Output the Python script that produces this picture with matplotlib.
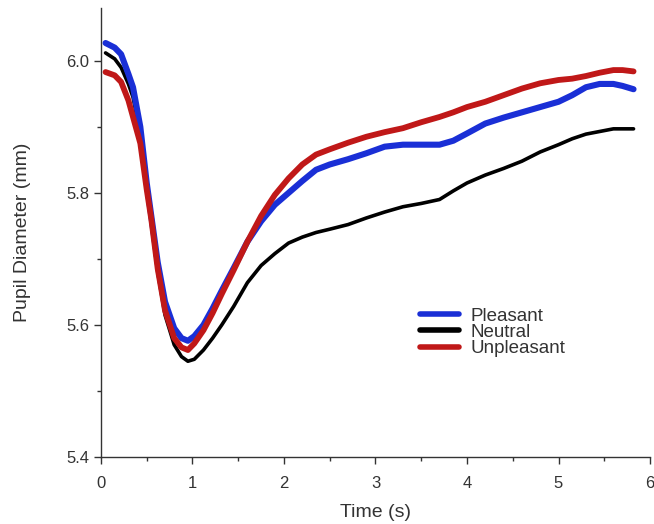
import matplotlib
matplotlib.use("Agg")
import matplotlib.pyplot as plt
from matplotlib.ticker import MultipleLocator, FormatStrFormatter

# time points (s)
time = [0.05, 0.15, 0.22, 0.3, 0.35, 0.43, 0.5, 0.55, 0.62, 0.7, 0.8, 0.88,
        0.95, 1.02, 1.12, 1.22, 1.32, 1.45, 1.6, 1.75, 1.9, 2.05, 2.2, 2.35,
        2.5, 2.7, 2.9, 3.1, 3.3, 3.5, 3.7, 3.85, 4.0, 4.2, 4.4, 4.6, 4.8,
        5.0, 5.15, 5.3, 5.45, 5.6, 5.7, 5.82]

# pupil diameter (mm)
pleasant = [6.027, 6.02, 6.01, 5.98, 5.96, 5.9, 5.815, 5.765, 5.695, 5.635,
            5.595, 5.58, 5.576, 5.583, 5.6, 5.625, 5.652, 5.686, 5.726,
            5.757, 5.782, 5.8, 5.818, 5.835, 5.843, 5.851, 5.86, 5.87,
            5.873, 5.873, 5.873, 5.879, 5.89, 5.905, 5.914, 5.922, 5.93,
            5.938, 5.948, 5.96, 5.965, 5.965, 5.962, 5.957]

neutral = [6.012, 6.003, 5.99, 5.965, 5.945, 5.89, 5.805, 5.755, 5.68, 5.615,
           5.57, 5.552, 5.545, 5.548, 5.562, 5.58, 5.6, 5.628, 5.664, 5.69,
           5.708, 5.724, 5.733, 5.74, 5.745, 5.752, 5.762, 5.771, 5.779,
           5.784, 5.79, 5.803, 5.815, 5.827, 5.837, 5.848, 5.862, 5.873,
           5.882, 5.889, 5.893, 5.897, 5.897, 5.897]

unpleasant = [5.983, 5.978, 5.968, 5.94, 5.915, 5.875, 5.805, 5.76, 5.685,
              5.622, 5.58, 5.566, 5.562, 5.572, 5.592, 5.618, 5.647, 5.683,
              5.726, 5.765, 5.797, 5.822, 5.843, 5.858, 5.866, 5.876, 5.885,
              5.892, 5.898, 5.907, 5.915, 5.922, 5.93, 5.938, 5.948, 5.958,
              5.966, 5.971, 5.973, 5.977, 5.982, 5.986, 5.986, 5.984]

plt.rcParams["font.family"] = ["Liberation Sans", "DejaVu Sans"]
text_col = "#333333"

fig = plt.figure(figsize=(6.54, 5.24), dpi=100)
ax = fig.add_axes([0.1544, 0.1279, 0.8395, 0.8568])

style = dict(solid_joinstyle="round", solid_capstyle="round")
ax.plot(time, neutral, color="black", lw=2.6, label="Neutral", zorder=2, **style)
ax.plot(time, pleasant, color="#1a2fd6", lw=4.4, label="Pleasant", zorder=3, **style)
ax.plot(time, unpleasant, color="#c01818", lw=4.2, label="Unpleasant", zorder=4, **style)

ax.set_xlim(0, 6)
ax.set_ylim(5.4, 6.08)
ax.xaxis.set_major_locator(MultipleLocator(1))
ax.xaxis.set_minor_locator(MultipleLocator(0.5))
ax.yaxis.set_major_locator(MultipleLocator(0.2))
ax.yaxis.set_minor_locator(MultipleLocator(0.1))
ax.yaxis.set_major_formatter(FormatStrFormatter("%.1f"))

for s in ["top", "right"]:
    ax.spines[s].set_visible(False)
for s in ["left", "bottom"]:
    ax.spines[s].set_color(text_col)
    ax.spines[s].set_linewidth(1.0)

ax.tick_params(which="major", length=5, width=1, colors=text_col,
               labelsize=12, labelcolor=text_col)
ax.tick_params(axis="x", which="major", pad=9)
ax.tick_params(which="minor", length=3, width=1, colors=text_col)

ax.set_xlabel("Time (s)", fontsize=14, color=text_col, labelpad=9)
ax.set_ylabel("Pupil Diameter (mm)", fontsize=14, color=text_col, labelpad=25)

handles, labels = ax.get_legend_handles_labels()
order = [1, 0, 2]
leg = ax.legend([handles[i] for i in order], [labels[i] for i in order],
                loc="upper left", bbox_to_anchor=(0.55, 0.37),
                frameon=False, fontsize=13.5, handlelength=2.1,
                handletextpad=0.6, labelspacing=-0.05)
for line in leg.get_lines():
    line.set_linewidth(4.0)
for t in leg.get_texts():
    t.set_color(text_col)

fig.savefig("out.png", dpi=100)
